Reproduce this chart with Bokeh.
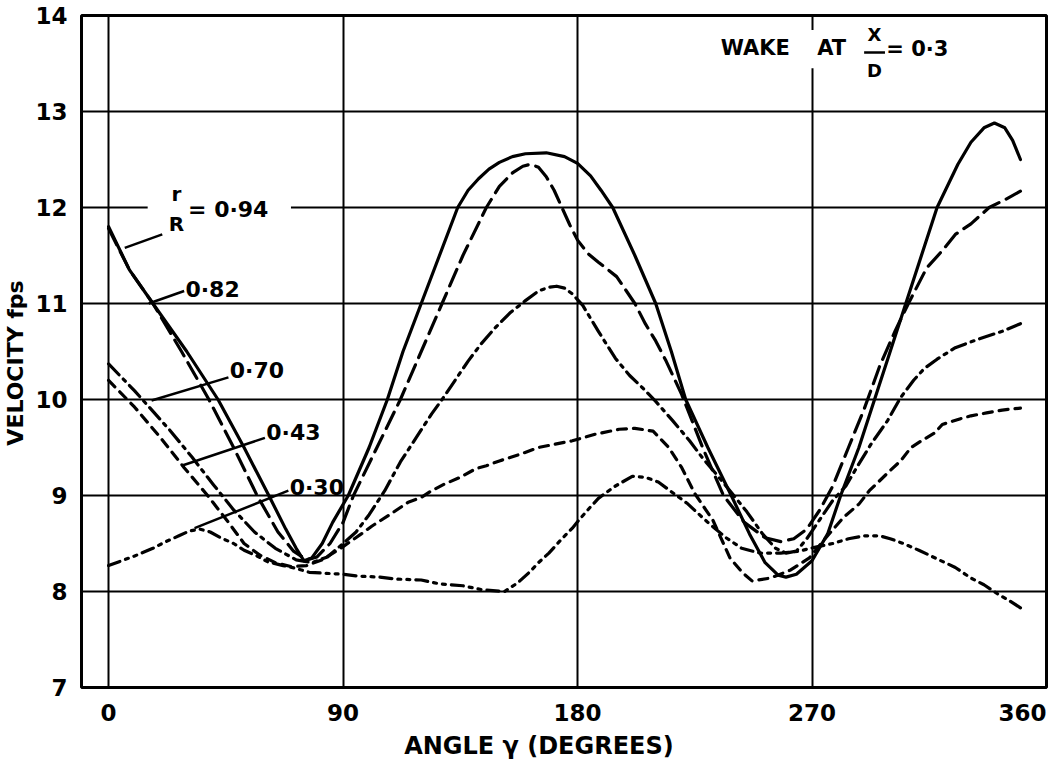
from bokeh.plotting import figure
from bokeh.models import Label, BoxAnnotation, FixedTicker, Range1d
from bokeh.embed import file_html
from bokeh.resources import INLINE

# ---- data (angle in degrees, velocity in fps) ----
deg94 = [0, 8, 17, 30, 42, 52, 61.5, 68, 72, 75, 78, 82, 86, 92, 100, 107, 113, 120, 127, 134, 138, 142, 146, 150, 155, 160, 168, 175, 180, 185, 189, 193.5, 202, 210, 216, 221.5, 230, 239, 246, 252, 257, 260, 264, 270, 276, 281, 288, 294, 300, 306, 312, 318, 326, 331, 336, 340, 344, 347, 350]
vel94 = [11.8, 11.35, 11.0, 10.5, 10.0, 9.5, 9.0, 8.65, 8.45, 8.32, 8.35, 8.5, 8.72, 9.0, 9.5, 10.0, 10.5, 11.0, 11.5, 12.0, 12.18, 12.3, 12.4, 12.47, 12.53, 12.56, 12.57, 12.53, 12.46, 12.33, 12.18, 12.0, 11.5, 11.0, 10.5, 10.0, 9.5, 9.0, 8.6, 8.3, 8.17, 8.15, 8.18, 8.32, 8.6, 9.0, 9.5, 10.0, 10.5, 11.0, 11.5, 12.0, 12.45, 12.68, 12.83, 12.88, 12.83, 12.7, 12.5]

deg82 = [0, 8, 17, 28, 38.5, 48, 57, 65, 71, 76, 80, 85, 90, 94, 103, 112, 120, 128, 136, 145, 150, 155, 159, 162, 165, 168, 171, 174, 177, 180, 184, 188, 195, 202, 206, 210, 214, 220, 228, 236, 244, 252, 258, 263, 268, 273, 278, 284, 290, 296, 302, 307, 314, 320, 325, 331, 338, 344, 350]
vel82 = [11.78, 11.35, 11.0, 10.5, 10.0, 9.5, 9.0, 8.62, 8.42, 8.33, 8.36, 8.5, 8.72, 9.0, 9.5, 10.0, 10.5, 11.0, 11.5, 12.0, 12.22, 12.36, 12.43, 12.45, 12.42, 12.32, 12.18, 12.0, 11.82, 11.66, 11.52, 11.43, 11.28, 11.0, 10.79, 10.61, 10.4, 10.05, 9.5, 9.0, 8.72, 8.56, 8.52, 8.55, 8.65, 8.85, 9.1, 9.5, 9.9, 10.35, 10.72, 11.0, 11.37, 11.55, 11.72, 11.83, 12.0, 12.08, 12.17]

deg70 = [0, 10, 23.5, 32, 40, 48, 56, 64, 72, 78, 84, 90, 95, 100, 106, 112, 118, 124, 128, 133, 138, 143, 148.5, 154, 160, 165, 169, 172, 175, 178, 182, 188, 194.5, 200, 205, 210, 216.5, 223, 228, 233, 238.5, 245, 251, 256, 260, 264, 268, 273, 278, 283, 288, 293, 299, 304, 309, 313, 318, 325, 334, 343, 350]
vel70 = [10.37, 10.09, 9.68, 9.4, 9.12, 8.85, 8.62, 8.45, 8.33, 8.3, 8.36, 8.5, 8.62, 8.8, 9.05, 9.35, 9.6, 9.85, 10.0, 10.2, 10.4, 10.58, 10.75, 10.9, 11.03, 11.13, 11.17, 11.18, 11.16, 11.1, 10.98, 10.71, 10.43, 10.25, 10.12, 9.98, 9.78, 9.57, 9.39, 9.23, 9.05, 8.83, 8.6, 8.45, 8.4, 8.42, 8.55, 8.75, 8.95, 9.1, 9.33, 9.55, 9.78, 10.02, 10.2, 10.32, 10.42, 10.54, 10.63, 10.71, 10.79]

deg43 = [0, 10, 20, 29, 38, 46, 52, 58, 64, 70, 76, 82, 89.6, 97, 101, 109, 115, 120, 124, 129, 135, 141, 145, 150, 158, 165, 178, 187, 196, 202, 209, 215, 220, 225, 232, 238.5, 243.5, 247, 254, 261.5, 269, 275, 282, 288, 292, 300, 304, 308, 312, 317, 320, 327, 331, 337, 343, 350]
vel43 = [10.2, 9.92, 9.6, 9.29, 9.0, 8.72, 8.5, 8.38, 8.3, 8.26, 8.27, 8.33, 8.46, 8.6, 8.68, 8.82, 8.93, 8.98, 9.05, 9.12, 9.19, 9.28, 9.31, 9.36, 9.43, 9.5, 9.57, 9.64, 9.69, 9.7, 9.67, 9.5, 9.29, 9.02, 8.74, 8.35, 8.19, 8.11, 8.14, 8.22, 8.35, 8.55, 8.77, 8.91, 9.05, 9.26, 9.36, 9.5, 9.57, 9.65, 9.74, 9.8, 9.83, 9.86, 9.89, 9.91]

deg30 = [0, 10, 17, 22, 27, 31, 35, 39, 43, 48, 52, 57, 61, 67, 72, 77, 83, 90, 96, 104, 110, 120, 127, 136, 143, 152, 157, 161.5, 165, 169, 174, 178, 181, 184.6, 188, 194, 201, 206, 211, 216, 222, 230, 237, 243, 250, 258, 265, 271, 278, 284, 290, 296, 300, 305, 311, 318, 325, 331, 336, 341, 346, 350]
vel30 = [8.27, 8.37, 8.45, 8.52, 8.58, 8.63, 8.65, 8.62, 8.56, 8.5, 8.43, 8.37, 8.31, 8.27, 8.24, 8.2, 8.19, 8.18, 8.16, 8.15, 8.13, 8.12, 8.08, 8.06, 8.02, 8.0, 8.09, 8.2, 8.3, 8.4, 8.55, 8.66, 8.76, 8.87, 8.97, 9.09, 9.2, 9.19, 9.14, 9.04, 8.92, 8.72, 8.56, 8.45, 8.4, 8.4, 8.42, 8.46, 8.5, 8.55, 8.58, 8.58, 8.55, 8.5, 8.43, 8.34, 8.25, 8.14, 8.07, 7.98, 7.9, 7.83]

x_ticks = [0, 90, 180, 270, 360]
x_grid = [0, 90, 180, 270]
y_ticks = [7, 8, 9, 10, 11, 12, 13, 14]

series = [
    (deg94, vel94, "solid"),
    (deg82, vel82, "18 8"),
    (deg70, vel70, "15 6 3 6"),
    (deg43, vel43, "9 7"),
    (deg30, vel30, "12 6 3 6 3 6"),
]

# curve labels: text, text anchor (deg, fps), leader from (deg, fps) to (deg, fps)
curve_labels = [
    ("0·82", 29.5, 11.15, (15.4, 11.0), (29.0, 11.13)),
    ("0·70", 46.5, 10.3, (16.5, 9.99), (46.0, 10.23)),
    ("0·43", 60.5, 9.66, (28.0, 9.31), (60.0, 9.6)),
    ("0·30", 69.5, 9.08, (33.0, 8.66), (69.0, 9.05)),
]

FONT = "DejaVu Sans"
NB = "\u00a0"

p = figure(frame_width=965, frame_height=672, x_range=Range1d(-10.4, 360), y_range=Range1d(7, 14),
           output_backend="svg", toolbar_location=None,
           min_border_left=70, min_border_right=8, min_border_top=15, min_border_bottom=60)
p.background_fill_color = "white"
p.border_fill_color = "white"
p.outline_line_color = "black"
p.outline_line_width = 3

p.xaxis.ticker = FixedTicker(ticks=x_ticks)
p.yaxis.ticker = FixedTicker(ticks=y_ticks)
p.xaxis.major_label_overrides = {360: "360" + NB}
p.xgrid.ticker = FixedTicker(ticks=x_grid)
p.ygrid.ticker = FixedTicker(ticks=y_ticks)
for g in (p.xgrid, p.ygrid):
    g.grid_line_color = "black"
    g.grid_line_width = 2
    g.grid_line_alpha = 1

for ax in (p.xaxis, p.yaxis):
    ax.axis_line_color = None
    ax.major_tick_line_color = None
    ax.minor_tick_line_color = None
    ax.major_label_text_font = FONT
    ax.major_label_text_font_style = "bold"
    ax.major_label_text_font_size = "23px"
    ax.major_label_text_color = "black"
    ax.axis_label_text_font = FONT
    ax.axis_label_text_font_style = "bold"
    ax.axis_label_text_color = "black"

p.xaxis.major_label_standoff = 6
p.yaxis.major_label_standoff = 8
p.xaxis.axis_label = "ANGLE    γ    (DEGREES)"
p.xaxis.axis_label_text_font_size = "24px"
p.xaxis.axis_label_standoff = 3
p.yaxis.axis_label = "VELOCITY    fps"
p.yaxis.axis_label_text_font_size = "22px"
p.yaxis.axis_label_standoff = 4

for xs, ys, dash in series:
    p.line(xs, ys, line_color="black", line_width=3.2, line_dash=dash, line_join="round", line_cap="round")

# white gap behind the r/R label on the 12 gridline
p.add_layout(BoxAnnotation(left=15, right=70, bottom=11.82, top=12.16,
                           fill_color="white", fill_alpha=1, line_alpha=0))
lbl = dict(text_font=FONT, text_font_style="bold", text_color="black")
p.add_layout(Label(x=26, y=12.14, text="r", text_align="center", text_baseline="middle", text_font_size="20px", **lbl))
p.add_layout(Label(x=26, y=11.83, text="R", text_align="center", text_baseline="middle", text_font_size="20px", **lbl))
p.segment(x0=[22.0], y0=[11.985], x1=[30.0], y1=[11.985], line_color="black", line_width=2.5)
p.add_layout(Label(x=30.5, y=11.98, text="= 0·94", text_align="left", text_baseline="middle", text_font_size="22px", **lbl))
p.segment(x0=[6.2], y0=[11.58], x1=[20.6], y1=[11.72], line_color="black", line_width=2.5)

for text, tx, ty, a, b in curve_labels:
    p.segment(x0=[a[0]], y0=[a[1]], x1=[b[0]], y1=[b[1]], line_color="black", line_width=2.5)
    p.add_layout(Label(x=tx, y=ty, text=text, text_align="left", text_baseline="middle",
                       text_font_size="22px", **lbl))

# title block: WAKE AT X/D = 0·3
p.add_layout(BoxAnnotation(left=267, right=275, bottom=13.45, top=13.85,
                           fill_color="white", fill_alpha=1, line_alpha=0))
p.add_layout(Label(x=235, y=13.66, text="WAKE", text_align="left", text_baseline="middle",
                   text_font_size="21px", **lbl))
p.add_layout(Label(x=272, y=13.66, text="AT", text_align="left", text_baseline="middle",
                   text_font_size="21px", **lbl))
p.add_layout(Label(x=294, y=13.8, text="X", text_align="center", text_baseline="middle", text_font_size="18px", **lbl))
p.add_layout(Label(x=294, y=13.43, text="D", text_align="center", text_baseline="middle", text_font_size="18px", **lbl))
p.segment(x0=[290.0], y0=[13.615], x1=[298.0], y1=[13.615], line_color="black", line_width=2.5)
p.add_layout(Label(x=298.5, y=13.65, text="= 0·3", text_align="left", text_baseline="middle", text_font_size="21px", **lbl))

open("out.html", "w").write(file_html(p, INLINE))
